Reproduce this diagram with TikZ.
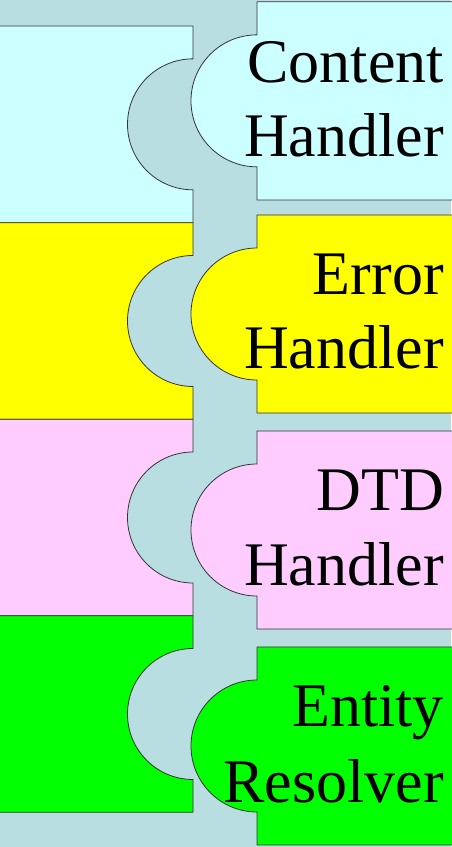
\documentclass[tikz,border=0pt]{standalone}
\usepackage{fontspec}
\newfontfamily\labelfont{LiberationSerif-Regular.ttf}
\definecolor{bus}{RGB}{185,222,225}
\definecolor{cyanish}{RGB}{204,255,255}
\definecolor{pinkish}{RGB}{255,204,255}
\definecolor{greenish}{RGB}{0,255,0}
\definecolor{yellowish}{RGB}{255,255,0}
\tikzset{
  piece/.style={draw=black!80, line width=0.8pt, line join=miter},
  lbl/.style={anchor=base east, inner sep=0pt, font=\labelfont\fontsize{62}{74}\selectfont}
}
% socket on the left: notch cut into its right side (top y, bottom y in picture rows)
\newcommand{\socketpiece}[3]{%
  \pgfmathsetmacro{\cy}{847-(#1+#2)/2}%
  \fill[#3] (-5,847-#1) -- (193,847-#1) -- (193,\cy+65.5)
    arc[start angle=90, end angle=270, radius=65.5] -- (193,847-#2) -- (-5,847-#2) -- cycle;
  \draw[piece] (-5,847-#1) -- (193,847-#1) -- (193,\cy+65.5)
    arc[start angle=90, end angle=270, radius=65.5] -- (193,847-#2) -- (-5,847-#2);
}
% plug on the right: round tab sticking out of its left side
\newcommand{\plugpiece}[3]{%
  \pgfmathsetmacro{\cy}{847-(#1+#2)/2}%
  \fill[#3] (456,847-#1) -- (257,847-#1) -- (257,\cy+66)
    arc[start angle=90, end angle=270, radius=66] -- (257,847-#2) -- (456,847-#2) -- cycle;
  \draw[piece] (456,847-#1) -- (257,847-#1) -- (257,\cy+66)
    arc[start angle=90, end angle=270, radius=66] -- (257,847-#2) -- (456,847-#2);
}
\begin{document}
\begin{tikzpicture}[x=1pt,y=1pt]
  \useasboundingbox (0,0) rectangle (451,847);
  \fill[bus] (0,0) rectangle (451,847);

  % sockets
  \socketpiece{26}{222.7}{cyanish}
  \socketpiece{222.7}{419.3}{yellowish}
  \socketpiece{419.3}{615.7}{pinkish}
  \socketpiece{615.7}{812.3}{greenish}

  % plugs
  \plugpiece{1.7}{200}{cyanish}
  \plugpiece{215}{413}{yellowish}
  \plugpiece{431}{629}{pinkish}
  \plugpiece{647}{845}{greenish}

  % labels
  \node[lbl] (l1a) at (444,847-83) {Content};
  \node[lbl] (l1b) at (444,847-157) {Handler};
  \node[lbl] (l2a) at (444,847-295) {Error};
  \node[lbl] (l2b) at (444,847-369) {Handler};
  \node[lbl] (l3a) at (444,847-511) {DTD};
  \node[lbl] (l3b) at (444,847-586) {Handler};
  \node[lbl] (l4a) at (444,847-727) {Entity};
  \node[lbl] (l4b) at (444,847-802) {Resolver};
\end{tikzpicture}
\end{document}
